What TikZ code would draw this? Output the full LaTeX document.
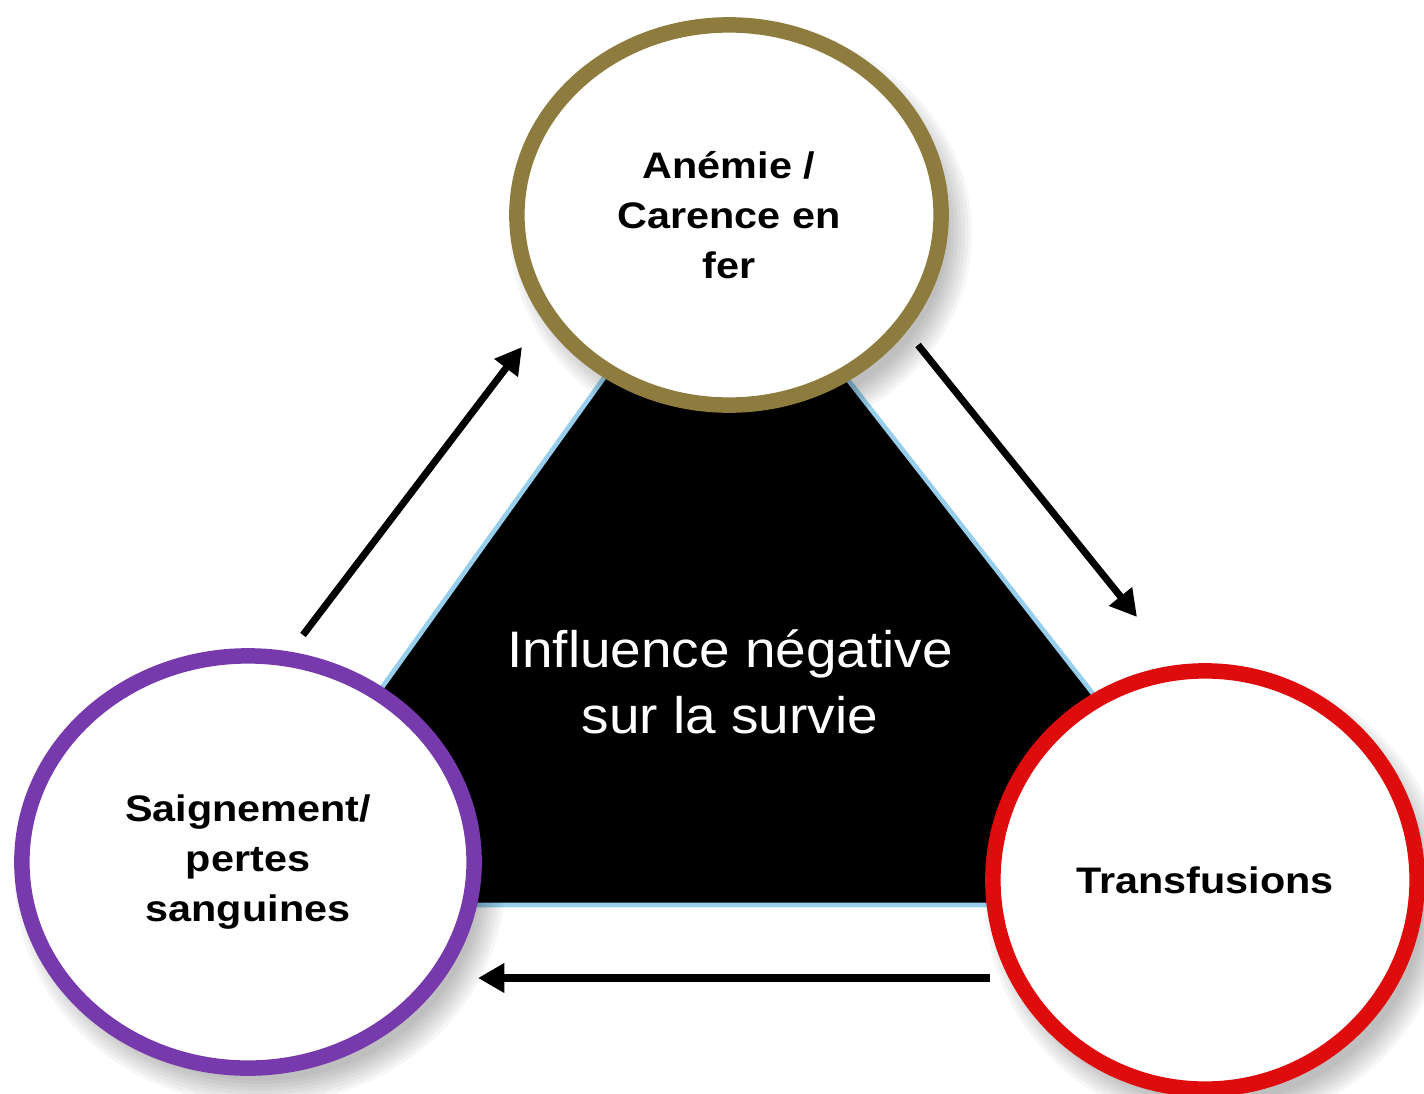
\documentclass[tikz,border=0pt]{standalone}
\usepackage{fontspec}
\setmainfont{Liberation Sans}
\newfontfamily\labelfont[FakeStretch=1.12]{Liberation Sans}
\newfontfamily\centerfont[FakeStretch=1.07]{Liberation Sans}
\usepackage{tikz}
\usetikzlibrary{positioning,shapes.geometric,arrows.meta,calc,backgrounds}

\definecolor{ringgold}{RGB}{142,124,62}
\definecolor{ringpurple}{RGB}{118,58,172}
\definecolor{ringred}{RGB}{222,12,12}
\definecolor{edgeblue}{RGB}{150,206,236}

\begin{document}
\begin{tikzpicture}[x=0.01cm, y=-0.01cm,
    cyclenode/.style={ellipse, fill=white, line width=4.4pt, align=center, inner sep=0pt,
        font=\labelfont\fontsize{10.5}{14.2}\selectfont\bfseries},
    flow/.style={-{Triangle[length=7.5pt,width=8pt]}, line width=2pt, black}]
    \useasboundingbox (0,0) rectangle (1424,1094);

    % the three causes
    \node[cyclenode, draw=ringgold, minimum width=4.24cm, minimum height=3.80cm] (anemie) at (729,215) {An\'emie /\\Carence en\\fer};
    \node[cyclenode, draw=ringpurple, minimum width=4.52cm, minimum height=4.12cm] (saign) at (248,862) {Saignement/\\pertes\\sanguines};
    \node[cyclenode, draw=ringred, minimum width=4.24cm, minimum height=4.18cm] (transf) at (1205,880) {Transfusions};

    \begin{scope}[on background layer]
        \fill[black] (720,216) -- (226,905) -- (1258,905) -- cycle;
        \draw[edgeblue, line width=1.3pt] (720,216) -- (226,905) -- (1258,905) -- cycle;
        % soft shadows
        \foreach \n/\rx/\ry in {anemie/2.19/1.97, saign/2.33/2.13, transf/2.20/2.17}
            \foreach \i in {0,...,7}
                \fill[black, opacity=0.035] ([shift={(12,18)}]\n.center)
                    ellipse [x radius=\rx cm+0.12cm-\i*0.035cm, y radius=\ry cm+0.12cm-\i*0.035cm];
    \end{scope}

    \node[text=white, align=center, font=\centerfont\fontsize{14.6}{18.8}\selectfont] (influence) at (730,682) {Influence n\'egative\\sur la survie};

    % cycle arrows
    \draw[flow] ([shift={(55,-227)}]saign.center) -- ([shift={(-207,132)}]anemie.center);
    \draw[flow] ([shift={(189,130)}]anemie.center) -- ([shift={(-68,-263)}]transf.center);
    \draw[flow] ([shift={(-215,98)}]transf.center) -- ([shift={(230,116)}]saign.center);
\end{tikzpicture}
\end{document}
